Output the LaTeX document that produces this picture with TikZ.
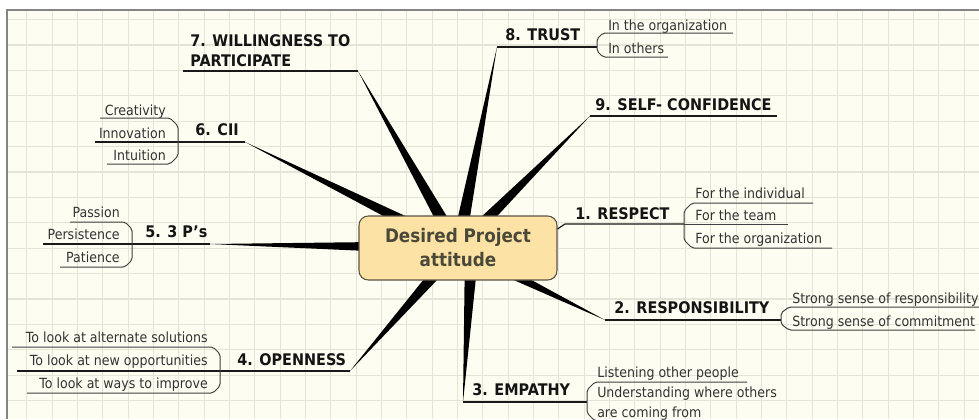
\documentclass[tikz,border=0pt]{standalone}
\usepackage{fontspec}
\setmainfont{DejaVu Sans}[FakeStretch=0.9]
\usetikzlibrary{calc}

\definecolor{paperbg}{HTML}{FDFDF2}
\definecolor{gridgray}{HTML}{E4E4D7}
\definecolor{framegray}{HTML}{858585}
\definecolor{hubfill}{HTML}{FCE2A4}
\definecolor{hubdraw}{HTML}{5C5444}
\definecolor{hubtext}{HTML}{4A4838}
\definecolor{subgray}{HTML}{333333}

\tikzset{
  gridrule/.style={draw=gridgray, line width=0.8pt},
  topic/.style={anchor=base west, inner sep=0pt, align=left, text=black!92,
    font=\fontsize{12}{14.3}\selectfont\bfseries},
  subitem/.style={anchor=base west, inner sep=0pt, align=left, text=subgray,
    font=\fontsize{10.5}{14.3}\selectfont},
  subleft/.style={subitem, anchor=base east, align=right},
  topicline/.style={draw=black!90, line width=0.9pt},
  subline/.style={draw=black!75, line width=0.75pt, rounded corners=1.5pt},
  hubbox/.style={draw=hubdraw, fill=hubfill, line width=0.8pt, rounded corners=7pt,
    minimum width=148.5pt, minimum height=48pt, align=center, text=hubtext,
    font=\fontsize{14}{18}\selectfont\bfseries},
}
\newcommand\spoke[2]{\fill[black] (#2) -- ($(#1)!5.25pt!90:(#2)$) -- ($(#1)!5.25pt!-90:(#2)$) -- cycle;}

\begin{document}
\begin{tikzpicture}[x=0.75pt,y=-0.75pt]
    \useasboundingbox (0,0) rectangle (979,419);
    % squared paper
    \fill[paperbg] (7,10) rectangle (979,419);
    \foreach \k in {0,...,37}
        \draw[gridrule] ({26.9+25.33*\k},10) -- ({26.9+25.33*\k},419);
    \foreach \k in {0,...,15}
        \draw[gridrule] (7,{19.6+25.4*\k}) -- (979,{19.6+25.4*\k});
    \draw[framegray, line width=0.9pt] (979,10) -- (7,10) -- (7,419);

    % where the branches meet
    \coordinate (hub) at (458,248);
    \coordinate (hub3) at (472,248);

    % outer ends of the branches
    \coordinate (willing-end) at (358,71);
    \coordinate (trust-end) at (497,47);
    \coordinate (selfconf-end) at (590,116);
    \coordinate (resp-end) at (605,320);
    \coordinate (empathy-end) at (463,402);
    \coordinate (openness-end) at (350,371);
    \coordinate (threeps-end) at (210,244);
    \coordinate (cii-end) at (245,142);

    \spoke{hub}{willing-end}
    \spoke{hub}{trust-end}
    \spoke{hub}{selfconf-end}
    \spoke{hub}{resp-end}
    \spoke{hub3}{empathy-end}
    \spoke{hub}{openness-end}
    \spoke{hub}{threeps-end}
    \spoke{hub}{cii-end}

    \node[hubbox] (core) at (hub) {Desired Project\\attitude};

    % main topics
    \node[topic] (willing) at (190,66) {7. WILLINGNESS TO\\PARTICIPATE};
    \draw[topicline] (183,71) -- (willing-end);

    \node[topic] (trust) at (505,40) {8. TRUST};
    \draw[topicline] (trust-end) -- (597,47);

    \node[topic] (selfconf) at (595,110) {9. SELF- CONFIDENCE};
    \draw[topicline] (selfconf-end) -- (777,116);

    \node[topic] (respect) at (575,219) {1. RESPECT};
    \coordinate (respect-end) at (565,224);
    \draw[topicline] ([yshift=14.25pt]core.east) -- (respect-end) -- (684,224);

    \node[topic] (resp) at (614,313) {2. RESPONSIBILITY};
    \draw[topicline] (resp-end) -- (781,320);

    \node[topic] (empathy) at (472,395) {3. EMPATHY};
    \draw[topicline] (empathy-end) -- (587,402);

    \node[topic] (openness) at (237,365) {4. OPENNESS};
    \draw[topicline] (17,371) -- (openness-end);

    \node[topic] (threeps) at (145,237) {5. 3 P's};
    \draw[topicline] (43,244) -- (threeps-end);

    \node[topic] (cii) at (195,135) {6. CII};
    \draw[topicline] (95,142) -- (cii-end);

    % sub topics
    \node[subitem] (trust-a) at (608,30) {In the organization};
    \node[subitem] (trust-b) at (608,53) {In others};
    \draw[subline] (733,33) -- (603,33) -- (597,39) -- (597,51) -- (603,57) -- (668,57);

    \node[subitem] (respect-a) at (695,198) {For the individual};
    \node[subitem] (respect-b) at (695,220) {For the team};
    \node[subitem] (respect-c) at (695,243) {For the organization};
    \draw[subline] (813,203) -- (692,203) -- (684,211) -- (684,240) -- (692,248) -- (832,248);
    \draw[subline] (684,224) -- (788,224);

    \node[subitem] (resp-a) at (792,303) {Strong sense of responsibility};
    \node[subitem] (resp-b) at (792,326) {Strong sense of commitment};
    \draw[subline] (985,307) -- (789,307) -- (781,313) -- (781,324) -- (789,330) -- (975,330);

    \node[subitem] (empathy-a) at (597,377) {Listening other people};
    \node[subitem] (empathy-b) at (597,417) {Understanding where others\\are coming from};
    \draw[subline] (747,382) -- (595,382) -- (587,390) -- (587,413) -- (595,421) -- (760,421);

    \node[subleft] (openness-a) at (208,342) {To look at alternate solutions};
    \node[subleft] (openness-b) at (208,365) {To look at new opportunities};
    \node[subleft] (openness-c) at (208,388) {To look at ways to improve};
    \draw[subline] (12,347) -- (213,347) -- (220,354) -- (220,386) -- (213,393) -- (27,393);

    \node[subleft] (threeps-a) at (120,217) {Passion};
    \node[subleft] (threeps-b) at (120,239) {Persistence};
    \node[subleft] (threeps-c) at (120,262) {Patience};
    \draw[subline] (70,222) -- (125,222) -- (132,229) -- (132,260) -- (125,267) -- (60,267);

    \node[subleft] (cii-a) at (166,115) {Creativity};
    \node[subleft] (cii-b) at (166,138) {Innovation};
    \node[subleft] (cii-c) at (166,160) {Intuition};
    \draw[subline] (100,118) -- (170,118) -- (178,126) -- (178,156) -- (170,164) -- (107,164);
\end{tikzpicture}
\end{document}
